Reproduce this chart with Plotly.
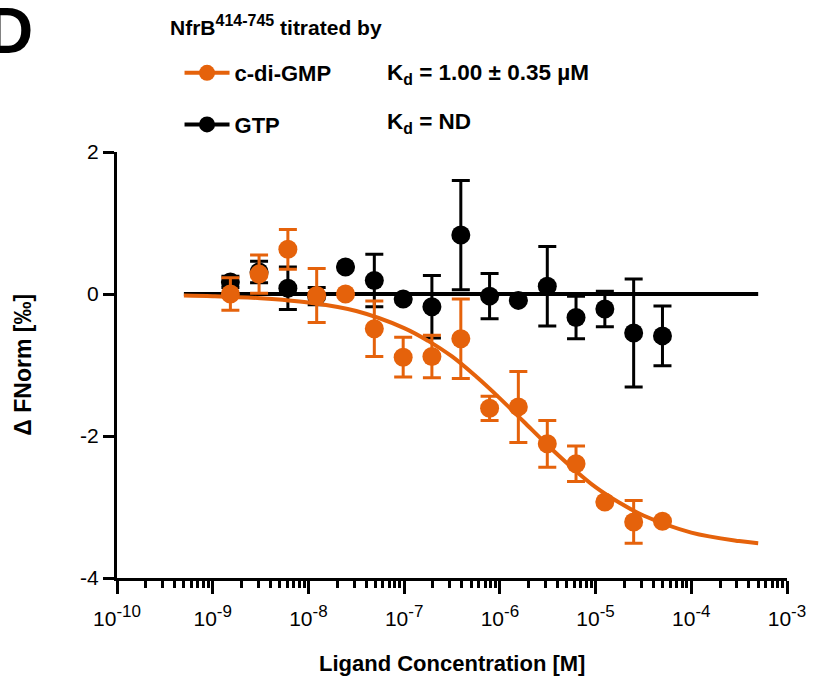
import plotly.graph_objects as go

# ---------------- data ----------------
conc = [1.53e-9, 3.05e-9, 6.1e-9, 1.22e-8, 2.44e-8, 4.88e-8, 9.77e-8, 1.95e-7,
        3.91e-7, 7.81e-7, 1.56e-6, 3.13e-6, 6.25e-6, 1.25e-5, 2.5e-5, 5.0e-5]

cdg_y   = [0.00, 0.28, 0.63, -0.02, 0.00, -0.49, -0.89, -0.88,
           -0.63, -1.61, -1.59, -2.11, -2.39, -2.93, -3.21, -3.20]
cdg_err = [0.23, 0.27, 0.28, 0.38, 0.00, 0.39, 0.28, 0.30,
           0.56, 0.17, 0.50, 0.33, 0.25, 0.00, 0.30, 0.00]

gtp_y   = [0.17, 0.31, 0.08, -0.03, 0.38, 0.19, -0.07, -0.18,
           0.83, -0.03, -0.09, 0.11, -0.33, -0.21, -0.55, -0.59]
gtp_err = [0.08, 0.15, 0.30, 0.12, 0.00, 0.37, 0.00, 0.44,
           0.77, 0.32, 0.00, 0.56, 0.30, 0.25, 0.76, 0.42]

# fitted curves
fit_cdg_x = [5e-10, 1e-9, 3.16e-9, 1e-8, 3.16e-8, 1e-7, 1.78e-7, 3.16e-7, 5.62e-7,
             1e-6, 1.78e-6, 3.16e-6, 5.62e-6, 1e-5, 1.78e-5, 3.16e-5, 1e-4, 3.16e-4, 5e-4]
fit_cdg_y = [-0.02, -0.03, -0.06, -0.12, -0.24, -0.48, -0.66, -0.88, -1.16,
             -1.47, -1.80, -2.13, -2.44, -2.72, -2.94, -3.12, -3.36, -3.48, -3.51]
fit_gtp_x = [5e-10, 5e-4]
fit_gtp_y = [0.0, 0.0]

x_tickvals = [1e-10, 1e-9, 1e-8, 1e-7, 1e-6, 1e-5, 1e-4, 1e-3]
x_exponents = ["-10", "-9", "-8", "-7", "-6", "-5", "-4", "-3"]
y_tickvals = [-4, -2, 0, 2]
y_ticktext = ["-4", "-2", "0", "2"]

ORANGE = "#E5620B"
BLACK = "#000000"
FONT = "Liberation Sans, Arial, sans-serif"

x_ticktext = ["10<sup><span style='font-size:17px'>%s</span></sup>" % e for e in x_exponents]

# ---------------- figure ----------------
W, H = 818, 677
L, R, T, B = 117, 26, 152, 99
PW, PH = W - L - R, H - T - B

def px(x):
    return (x - L) / PW

def py(y):
    return (H - B - y) / PH

fig = go.Figure()

fig.add_trace(go.Scatter(x=fit_gtp_x, y=fit_gtp_y, mode="lines",
                         line=dict(color=BLACK, width=4), showlegend=False, hoverinfo="skip"))
fig.add_trace(go.Scatter(x=conc, y=gtp_y, mode="markers",
                         marker=dict(color=BLACK, size=19),
                         error_y=dict(type="data", array=gtp_err, color=BLACK,
                                      thickness=3, width=9),
                         showlegend=False))
fig.add_trace(go.Scatter(x=fit_cdg_x, y=fit_cdg_y, mode="lines", line_shape="spline",
                         line=dict(color=ORANGE, width=4), showlegend=False, hoverinfo="skip"))
fig.add_trace(go.Scatter(x=conc, y=cdg_y, mode="markers",
                         marker=dict(color=ORANGE, size=19),
                         error_y=dict(type="data", array=cdg_err, color=ORANGE,
                                      thickness=3, width=9),
                         showlegend=False))

# legend entries
fig.add_trace(go.Scatter(x=[None], y=[None], mode="lines+markers", name="c-di-GMP",
                         legendgroup="a", line=dict(color=ORANGE, width=4),
                         marker=dict(color=ORANGE, size=19)))
fig.add_trace(go.Scatter(x=[None], y=[None], mode="lines+markers", name="GTP",
                         legendgroup="b", line=dict(color=BLACK, width=4),
                         marker=dict(color=BLACK, size=19)))

fig.update_layout(
    width=W, height=H,
    margin=dict(l=L, r=R, t=T, b=B),
    paper_bgcolor="white", plot_bgcolor="white",
    font=dict(family=FONT, color="black", size=20),
    legend=dict(x=px(180), y=py(52), xanchor="left", yanchor="top",
                font=dict(family=FONT, size=22, weight="bold"),
                itemwidth=45, tracegroupgap=20, bgcolor="rgba(0,0,0,0)"),
    xaxis=dict(type="log", range=[-10, -3], showline=True, linecolor=BLACK, linewidth=3,
               ticks="outside", ticklen=13, tickwidth=3, tickcolor=BLACK,
               tickmode="array", tickvals=x_tickvals, ticktext=x_ticktext,
               tickfont=dict(size=21), ticklabelstandoff=7,
               showgrid=False, zeroline=False,
               minor=dict(ticks="outside", ticklen=7, tickwidth=2.5, tickcolor=BLACK,
                          dtick="D1", showgrid=False)),
    yaxis=dict(range=[-4, 2], showline=True, linecolor=BLACK, linewidth=3,
               ticks="outside", ticklen=11, tickwidth=3, tickcolor=BLACK,
               tickmode="array", tickvals=y_tickvals, ticktext=y_ticktext,
               tickfont=dict(size=21), showgrid=False, zeroline=False),
)

ann = [
    dict(text="<b>D</b>", x=px(-16), y=py(31), xanchor="left", yanchor="middle",
         font=dict(size=64, family=FONT)),
    dict(text="<b>NfrB<sup><span style='font-size:16px'>414-745</span></sup> titrated by</b>",
         x=px(168), y=py(25), xanchor="left", yanchor="middle", font=dict(size=21)),
    dict(text="<b>K<sub>d</sub> = 1.00 ± 0.35 µM</b>", x=px(387), y=py(74),
         xanchor="left", yanchor="middle", font=dict(size=22.5)),
    dict(text="<b>K<sub>d</sub> = ND</b>", x=px(387), y=py(123),
         xanchor="left", yanchor="middle", font=dict(size=22.5)),
    dict(text="<b>Ligand Concentration [M]</b>", x=0.5, y=py(663),
         xanchor="center", yanchor="middle", font=dict(size=22)),
    dict(text="<b>Δ FNorm [‰]</b>", x=px(22), y=0.5, textangle=-90,
         xanchor="center", yanchor="middle", font=dict(size=23)),
]
for a in ann:
    a.update(xref="paper", yref="paper", showarrow=False)
fig.update_layout(annotations=ann)

fig.write_html("out.html", config={"displayModeBar": False},
               post_script="document.body.style.margin='0px';")
